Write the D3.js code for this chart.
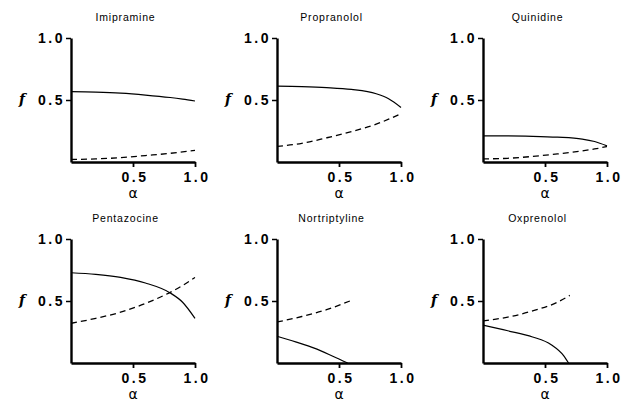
<!DOCTYPE html>
<html>
<head>
<meta charset="utf-8">
<script src="https://cdn.jsdelivr.net/npm/d3@7"></script>
<style>
body { margin:0; background:#fff; }
svg { display:block; }
.tick text { font-family:"Liberation Sans", Arial, sans-serif; font-weight:bold; font-size:14px; letter-spacing:2.5px; fill:#000; }
.domain, .tick line { stroke:#000; }
.title { font-family:"Liberation Sans", Arial, sans-serif; font-size:10.5px; letter-spacing:0.8px; }
.flabel { font-family:"DejaVu Serif", serif; font-style:italic; font-weight:bold; font-size:14px; }
.alabel { font-family:"DejaVu Sans", sans-serif; font-size:14px; }
</style>
</head>
<body>
<svg width="625" height="404"></svg>
<script>
//----------data---------------------------------
var drugs = ["Imipramine","Propranolol","Quinidine","Pentazocine","Nortriptyline","Oxprenolol"]
var alphaFull = [0, 0.2, 0.4, 0.6, 0.8, 0.9, 1.0]

var imipramineSolid  = [0.567, 0.563, 0.555, 0.540, 0.520, 0.507, 0.492]
var imipramineDashed = [0.020, 0.025, 0.035, 0.052, 0.070, 0.082, 0.093]
var propranololSolid  = [0.612, 0.608, 0.600, 0.585, 0.550, 0.510, 0.440]
var propranololDashed = [0.126, 0.150, 0.195, 0.245, 0.305, 0.345, 0.390]
var quinidineSolid  = [0.210, 0.210, 0.207, 0.200, 0.185, 0.165, 0.130]
var quinidineDashed = [0.025, 0.030, 0.045, 0.065, 0.090, 0.105, 0.125]
var pentazocineSolid  = [0.728, 0.715, 0.690, 0.645, 0.565, 0.490, 0.360]
var pentazocineDashed = [0.320, 0.360, 0.410, 0.480, 0.570, 0.625, 0.690]

var nortriptylineSolidA = [0, 0.15, 0.3, 0.45, 0.57]
var nortriptylineSolid  = [0.216, 0.170, 0.120, 0.055, 0]
var nortriptylineDashedA = [0, 0.2, 0.4, 0.6]
var nortriptylineDashed  = [0.330, 0.375, 0.430, 0.505]

var oxprenololSolidA = [0, 0.2, 0.4, 0.55, 0.65, 0.69]
var oxprenololSolid  = [0.305, 0.260, 0.210, 0.148, 0.060, 0]
var oxprenololDashedA = [0, 0.2, 0.4, 0.6, 0.7]
var oxprenololDashed  = [0.340, 0.370, 0.420, 0.490, 0.545]

var yTicks = [0.5, 1.0]
var xTicks = [0.5, 1.0]

var series = [
	{solidA: alphaFull, solid: imipramineSolid, dashedA: alphaFull, dashed: imipramineDashed},
	{solidA: alphaFull, solid: propranololSolid, dashedA: alphaFull, dashed: propranololDashed},
	{solidA: alphaFull, solid: quinidineSolid, dashedA: alphaFull, dashed: quinidineDashed},
	{solidA: alphaFull, solid: pentazocineSolid, dashedA: alphaFull, dashed: pentazocineDashed},
	{solidA: nortriptylineSolidA, solid: nortriptylineSolid, dashedA: nortriptylineDashedA, dashed: nortriptylineDashed},
	{solidA: oxprenololSolidA, solid: oxprenololSolid, dashedA: oxprenololDashedA, dashed: oxprenololDashed}
]

//----------layout-------------
var colLeft = [71, 277, 483]
var rowTop = [38, 239]
var graph = {width:124, height:124}

var svg = d3.select("svg")

var pairs = function(xs, ys)
{
	return xs.map(function(a, i) { return [a, ys[i]] })
}

var drawPanel = function(i)
{
	var left = colLeft[i % 3]
	var top = rowTop[Math.floor(i / 3)]
	var xScale = d3.scaleLinear().domain([0,1]).range([0, graph.width])
	var yScale = d3.scaleLinear().domain([0,1]).range([graph.height, 0])

	var g = svg.append("g")
		.attr("transform", "translate(" + left + "," + top + ")")

	var line = d3.line()
		.x(function(d) { return xScale(d[0]) })
		.y(function(d) { return yScale(d[1]) })
		.curve(d3.curveMonotoneX)

	g.append("path")
		.datum(pairs(series[i].dashedA, series[i].dashed))
		.attr("d", line)
		.attr("fill", "none")
		.attr("stroke", "#000")
		.attr("stroke-width", 1.3)
		.attr("stroke-dasharray", "6,4")

	g.append("path")
		.datum(pairs(series[i].solidA, series[i].solid))
		.attr("d", line)
		.attr("fill", "none")
		.attr("stroke", "#000")
		.attr("stroke-width", 1.2)

	var xAxis = d3.axisBottom(xScale)
		.tickValues(xTicks)
		.tickFormat(d3.format(".1f"))
		.tickSize(5)
		.tickSizeOuter(0)
		.tickPadding(5)
	g.append("g")
		.attr("transform", "translate(0," + graph.height + ")")
		.call(xAxis)
		.call(function(a) {
			a.select(".domain").attr("stroke-width", 2.4)
			a.selectAll(".tick line").attr("stroke-width", 1.8)
			a.selectAll(".tick text").attr("dx", "1.5px").attr("font-size", null).attr("font-family", null)
		})

	var yAxis = d3.axisLeft(yScale)
		.tickValues(yTicks)
		.tickFormat(d3.format(".1f"))
		.tickSize(5)
		.tickSizeOuter(0)
		.tickPadding(1)
	g.append("g")
		.call(yAxis)
		.call(function(a) {
			a.select(".domain").attr("stroke-width", 2.4)
			a.selectAll(".tick line").attr("stroke-width", 1.5)
			a.selectAll(".tick text").attr("font-size", null).attr("font-family", null)
		})

	g.append("text")
		.classed("title", true)
		.attr("text-anchor", "middle")
		.attr("x", xScale(0.44))
		.attr("y", -17)
		.text(drugs[i])

	g.append("text")
		.classed("flabel", true)
		.attr("text-anchor", "middle")
		.attr("x", -49)
		.attr("y", yScale(0.5) + 4)
		.text("f")

	g.append("text")
		.classed("alabel", true)
		.attr("text-anchor", "middle")
		.attr("x", xScale(0.5))
		.attr("y", graph.height + 36)
		.text("α")
}

drugs.forEach(function(d, i) { drawPanel(i) })
</script>
</body>
</html>
